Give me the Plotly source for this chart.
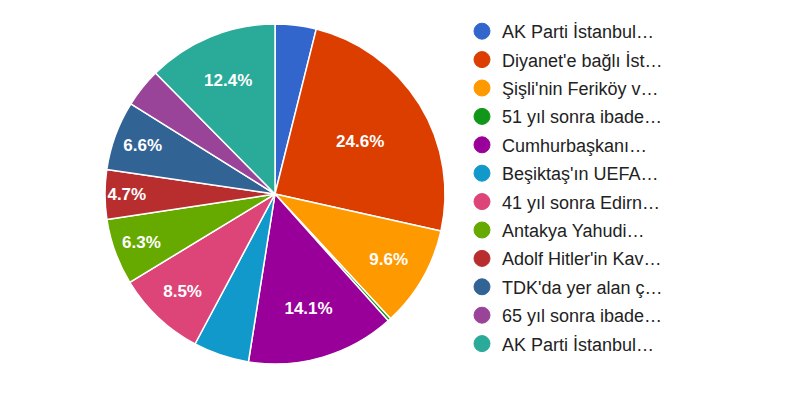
import plotly.graph_objects as go

labels = [
    "AK Parti İstanbul…",
    "Diyanet'e bağlı İst…",
    "Şişli'nin Feriköy v…",
    "51 yıl sonra ibade…",
    "Cumhurbaşkanı…",
    "Beşiktaş'ın UEFA…",
    "41 yıl sonra Edirn…",
    "Antakya Yahudi…",
    "Adolf Hitler'in Kav…",
    "TDK'da yer alan ç…",
    "65 yıl sonra ibade…",
    "AK Parti İstanbul… ",
]
values = [3.9, 24.6, 9.6, 0.3, 14.1, 5.3, 8.5, 6.3, 4.7, 6.6, 3.7, 12.4]
show_label = [False, True, True, False, True, False, True, True, True, True, False, True]
colors = ["#3366cc", "#dc3e00", "#ff9900", "#109618", "#990099", "#1199cc",
          "#dd4477", "#66aa00", "#b82e2e", "#316395", "#994499", "#2aaa99"]

W, H = 806, 397
cx, cy, R = 275, 194, 170

texts = [("%.1f%%" % v) if s else "" for v, s in zip(values, show_label)]

fig = go.Figure()
fig.add_trace(go.Pie(
    labels=labels, values=values, sort=False, direction="clockwise", rotation=0,
    marker=dict(colors=colors, line=dict(color="white", width=1.5)),
    text=texts, textinfo="text", textposition="inside",
    insidetextorientation="horizontal",
    insidetextfont=dict(family="Liberation Sans, Arial", size=17, color="white", weight="bold"),
    showlegend=False, hoverinfo="label+percent",
    domain=dict(x=[(cx - R) / W, (cx + R) / W], y=[(H - cy - R) / H, (H - cy + R) / H]),
))

for i, (lab, col) in enumerate(zip(labels, colors)):
    fig.add_trace(go.Scatter(
        x=[None], y=[None], mode="markers", name=lab.strip(),
        marker=dict(symbol="circle", size=16, color=col, line=dict(color=col, width=1)),
        legendgroup="g%d" % i, showlegend=True,
    ))

fig.update_layout(
    width=W, height=H,
    margin=dict(l=0, r=0, t=0, b=0),
    paper_bgcolor="white", plot_bgcolor="white",
    xaxis=dict(visible=False), yaxis=dict(visible=False),
    font=dict(family="Liberation Sans, Arial", size=18, color="#222222"),
    legend=dict(x=462 / W, xanchor="left", y=1 - 13 / H, yanchor="top",
                tracegroupgap=2, itemsizing="trace",
                font=dict(size=18, color="#222222")),
)

fig.write_html("out.html")
